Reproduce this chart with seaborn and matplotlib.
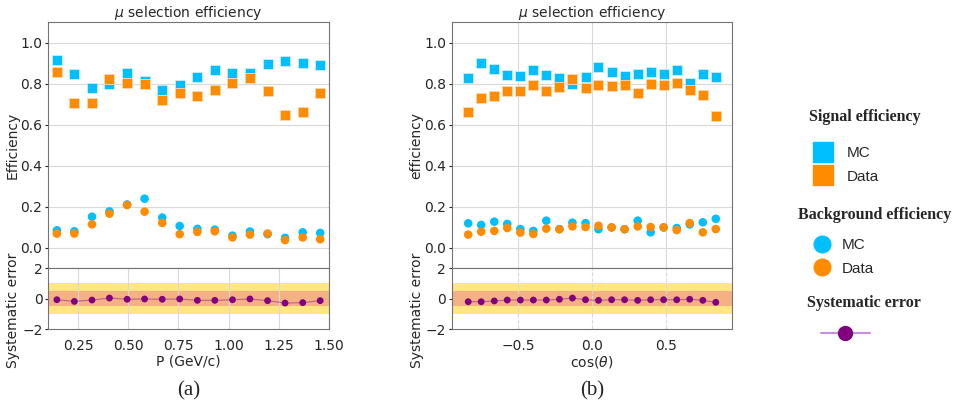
"""mu selection efficiency vs P and cos(theta), with systematic error panels."""

import matplotlib.pyplot as plt
from matplotlib.lines import Line2D
import pandas as pd
import seaborn as sns

# ---- panel (a): momentum bins ----
p_bins = [0.144, 0.231, 0.319, 0.406, 0.494, 0.581, 0.669, 0.756,
          0.844, 0.931, 1.019, 1.106, 1.194, 1.281, 1.369, 1.456]
p_sig_mc = [0.913, 0.848, 0.780, 0.800, 0.853, 0.812, 0.769, 0.791,
            0.832, 0.866, 0.850, 0.853, 0.893, 0.909, 0.898, 0.888]
p_sig_data = [0.856, 0.706, 0.706, 0.822, 0.803, 0.796, 0.718, 0.756,
              0.739, 0.767, 0.803, 0.828, 0.762, 0.646, 0.663, 0.754]
p_bkg_mc = [0.084, 0.079, 0.150, 0.176, 0.210, 0.238, 0.146, 0.105,
            0.091, 0.087, 0.058, 0.078, 0.065, 0.047, 0.074, 0.071]
p_bkg_data = [0.068, 0.068, 0.113, 0.165, 0.207, 0.175, 0.120, 0.065,
              0.076, 0.079, 0.049, 0.063, 0.068, 0.036, 0.049, 0.040]
p_syst = [-0.08, -0.19, -0.10, 0.03, -0.05, -0.03, -0.05, -0.03,
          -0.12, -0.12, -0.08, -0.03, -0.14, -0.30, -0.27, -0.14]

# ---- panel (b): cos(theta) bins ----
c_bins = [-0.840, -0.752, -0.663, -0.575, -0.486, -0.398, -0.310, -0.221,
          -0.133, -0.044, 0.044, 0.133, 0.221, 0.310, 0.398, 0.486,
          0.575, 0.663, 0.752, 0.840]
c_sig_mc = [0.827, 0.898, 0.873, 0.840, 0.835, 0.866, 0.842, 0.829, 0.800, 0.831,
            0.879, 0.858, 0.839, 0.844, 0.856, 0.845, 0.866, 0.803, 0.848, 0.834]
c_sig_data = [0.663, 0.731, 0.740, 0.765, 0.765, 0.794, 0.763, 0.785, 0.821, 0.777,
              0.794, 0.790, 0.794, 0.752, 0.797, 0.794, 0.803, 0.766, 0.745, 0.642]
c_bkg_mc = [0.118, 0.110, 0.126, 0.115, 0.090, 0.081, 0.131, 0.090, 0.121, 0.119,
            0.089, 0.098, 0.089, 0.131, 0.074, 0.098, 0.095, 0.113, 0.123, 0.140]
c_bkg_data = [0.063, 0.077, 0.081, 0.095, 0.073, 0.066, 0.092, 0.089, 0.103, 0.100,
              0.106, 0.098, 0.089, 0.103, 0.100, 0.098, 0.085, 0.119, 0.074, 0.090]
c_syst = [-0.21, -0.21, -0.16, -0.10, -0.10, -0.10, -0.10, -0.05, 0.03, -0.08,
          -0.12, -0.08, -0.08, -0.12, -0.08, -0.08, -0.08, -0.05, -0.12, -0.25]

BLUE = '#00bfff'
ORANGE = '#ff8c00'
PURPLE = '#800080'

sns.set_style('whitegrid', {'axes.edgecolor': '0.45', 'grid.color': '0.85',
                            'xtick.bottom': False, 'ytick.left': True})
plt.rcParams['font.family'] = ['DejaVu Sans']
plt.rcParams['font.size'] = 10
plt.rcParams['xtick.labelsize'] = 10
plt.rcParams['ytick.labelsize'] = 10
plt.rcParams['xtick.color'] = '0.15'
plt.rcParams['ytick.color'] = '0.15'
plt.rcParams['xtick.major.pad'] = 3.5
plt.rcParams['ytick.major.size'] = 2.5
plt.rcParams['ytick.major.pad'] = 1.5

fig = plt.figure(figsize=(9.57, 4.07), dpi=100)


def draw_panel(left, width, x, sig_mc, sig_data, bkg_mc, bkg_data, syst,
               xlim, xticks, xlabel, ylabel, vgrid_top, bottom_ls, tag):
    ax = fig.add_axes([left, 0.3415, width, 0.6044])
    axs = fig.add_axes([left, 0.1916, width, 0.1499], sharex=ax)

    df = pd.DataFrame({'x': x, 'sig_mc': sig_mc, 'sig_data': sig_data,
                       'bkg_mc': bkg_mc, 'bkg_data': bkg_data, 'syst': syst})

    sns.scatterplot(data=df, x='x', y='sig_mc', ax=ax, marker='s', s=56,
                    color=BLUE, edgecolor='#c8eefc', linewidth=0.6, zorder=3)
    sns.scatterplot(data=df, x='x', y='sig_data', ax=ax, marker='s', s=56,
                    color=ORANGE, edgecolor='#fcd9b0', linewidth=0.6, zorder=3)
    sns.scatterplot(data=df, x='x', y='bkg_mc', ax=ax, marker='o', s=38,
                    color=BLUE, edgecolor='none', zorder=3)
    sns.scatterplot(data=df, x='x', y='bkg_data', ax=ax, marker='o', s=38,
                    color=ORANGE, edgecolor='none', zorder=3)

    ax.set_ylim(-0.1, 1.1)
    ax.set_yticks([0.0, 0.2, 0.4, 0.6, 0.8, 1.0])
    ax.set_title(r'$\mu$ selection efficiency', fontsize=10, pad=3)
    ax.set_ylabel(ylabel)
    ax.set_xlabel('')
    ax.grid(axis='x', visible=vgrid_top)
    ax.tick_params(axis='x', labelbottom=False, bottom=False)

    axs.axhspan(-1, 1, color='#ffe680', lw=0, zorder=0)
    axs.axhspan(-0.5, 0.5, color='#f4b183', lw=0, zorder=0)
    sns.lineplot(data=df, x='x', y='syst', ax=axs, color=PURPLE, lw=0.8,
                 alpha=0.45, zorder=2)
    sns.scatterplot(data=df, x='x', y='syst', ax=axs, color=PURPLE, s=24,
                    edgecolor='none', zorder=3)
    axs.set_ylim(-2, 2)
    axs.set_yticks([-2, 0, 2])
    axs.set_xlim(*xlim)
    axs.set_xticks(xticks)
    axs.grid(axis='y', visible=False)
    axs.grid(axis='x', linestyle=bottom_ls)
    axs.set_xlabel(xlabel, labelpad=1)
    axs.set_ylabel('Systematic error')

    ax.yaxis.set_label_coords(-0.1, 0.5)
    axs.yaxis.set_label_coords(-0.1, 0.31)
    for a in (ax, axs):
        for sp in a.spines.values():
            sp.set_color('0.45')

    fig.text(left + width / 2, 0.04, tag, ha='center', va='center',
             family='Liberation Serif', fontsize=15)


draw_panel(0.0502, 0.2936, p_bins, p_sig_mc, p_sig_data, p_bkg_mc, p_bkg_data,
           p_syst, (0.1, 1.5), [0.25, 0.5, 0.75, 1.0, 1.25, 1.5],
           'P (GeV/c)', 'Efficiency', False, '-', '(a)')
draw_panel(0.472, 0.2932, c_bins, c_sig_mc, c_sig_data, c_bkg_mc, c_bkg_data,
           c_syst, (-0.952, 0.952), [-0.5, 0.0, 0.5],
           r'cos($\theta$)', 'efficiency', True, '--', '(b)')

# ---- legend block on the right ----
W, H = 957, 407
head_kw = dict(family='Liberation Serif', weight='bold', fontsize=11.5,
               ha='center', va='center')
fig.text(865 / W, 1 - 117 / H, 'Signal efficiency', **head_kw)
fig.text(875 / W, 1 - 215 / H, 'Background efficiency', **head_kw)
fig.text(864 / W, 1 - 303 / H, 'Systematic error', **head_kw)

sig_handles = [Line2D([], [], ls='', marker='s', ms=14, color=BLUE),
               Line2D([], [], ls='', marker='s', ms=14, color=ORANGE)]
bkg_handles = [Line2D([], [], ls='', marker='o', ms=12, color=BLUE),
               Line2D([], [], ls='', marker='o', ms=12, color=ORANGE)]
sys_handles = [Line2D([], [], color='#c890d8', lw=1.5, marker='o', ms=10,
                      mfc=PURPLE, mec=PURPLE)]

leg_kw = dict(frameon=False, loc='center left', borderpad=0, borderaxespad=0,
              prop={'family': 'Liberation Sans', 'size': 11},
              labelspacing=0.62)
fig.legend(sig_handles, ['MC', 'Data'], bbox_to_anchor=(811.5 / W, 1 - 165 / H),
           handlelength=1.5, handletextpad=0.8, **leg_kw)
fig.legend(bkg_handles, ['MC', 'Data'], bbox_to_anchor=(810.5 / W, 1 - 257 / H),
           handlelength=1.5, handletextpad=0.55, **leg_kw)
fig.legend(sys_handles, [''], bbox_to_anchor=(821 / W, 1 - 334 / H),
           handlelength=3.2, handletextpad=0.5, **leg_kw)

fig.savefig('out.png', dpi=100)
plt.close(fig)
